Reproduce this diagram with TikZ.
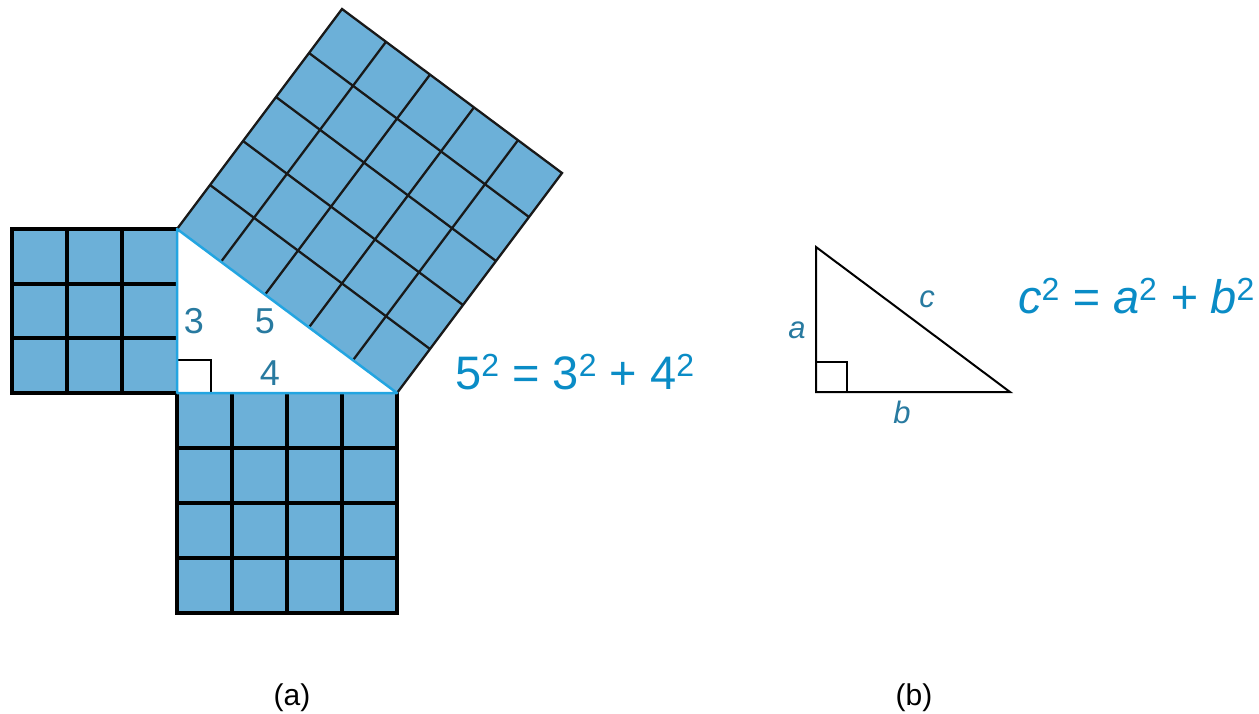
\documentclass[tikz,border=0pt]{standalone}
\usepackage{fontspec}
\setmainfont{Liberation Sans}
\usepackage{graphicx}
\usetikzlibrary{calc}
\definecolor{sqfill}{RGB}{108,176,216}
\definecolor{eqblue}{RGB}{10,140,198}
\definecolor{lblblue}{RGB}{40,122,160}
\definecolor{triblue}{RGB}{35,165,225}
\newcommand\sqsup[1]{\raisebox{0.27em}{\scalebox{0.68}{#1}}}
\tikzset{
  gridline/.style={black, line width=3.2pt},
  outerline/.style={black, line width=3.8pt, line join=miter},
  biggrid/.style={black!90, line width=2.3pt},
  trione/.style={triblue, line width=2.5pt, line join=round},
  eqtext/.style={text=eqblue, inner sep=0pt, anchor=base west, font=\fontsize{47}{50}\selectfont},
  numlbl/.style={text=lblblue, inner sep=0pt, anchor=base, font=\fontsize{36}{38}\selectfont},
  itlbl/.style={text=lblblue, inner sep=0pt, anchor=base, font=\fontsize{31}{33}\selectfont\itshape},
  caption/.style={text=black, inner sep=0pt, anchor=base, font=\fontsize{30}{32}\selectfont},
}
\begin{document}
\begin{tikzpicture}[x=1pt,y=-1pt]
\useasboundingbox (0,0) rectangle (1259,714);
% --- (a) ---
\coordinate (A) at (177,229);
\coordinate (C) at (177,393);
\coordinate (B) at (397,393);
\coordinate (A2) at (342,9);
\coordinate (B2) at (562,173);
% left square 3x3
\fill[sqfill] (12,229) rectangle (177,393);
\foreach \x in {67,122} \draw[gridline] (\x,229) -- (\x,393);
\foreach \y in {284,338} \draw[gridline] (12,\y) -- (177,\y);
\draw[outerline] (177,229) -- (12,229) -- (12,393) -- (177,393);
% bottom square 4x4
\fill[sqfill] (177,393) rectangle (397,613);
\foreach \x in {232,287,342} \draw[gridline] (\x,393) -- (\x,613);
\foreach \y in {448,503,558} \draw[gridline] (177,\y) -- (397,\y);
\draw[outerline] (177,393) -- (177,613) -- (397,613) -- (397,393);
% big square 5x5
\fill[sqfill] (A) -- (B) -- (B2) -- (A2) -- cycle;
\foreach \i in {1,...,4} {
  \draw[biggrid] ($(A)!\i/5!(B)$) -- ($(A2)!\i/5!(B2)$);
  \draw[biggrid] ($(A)!\i/5!(A2)$) -- ($(B)!\i/5!(B2)$);
}
\draw[biggrid] (A) -- (A2) -- (B2) -- (B);
% triangle
\fill[white] (A) -- (C) -- (B) -- cycle;
\draw[black, line width=1.3pt] (177,360) -- (211,360) -- (211,393);
\draw[trione] (A) -- (C) -- (B) -- cycle;
\node[numlbl] (l3) at (194,333) {3};
\node[numlbl] (l5) at (265,334) {5};
\node[numlbl] (l4) at (270,385) {4};
\node[eqtext] (eqa) at (455,389) {5\sqsup{2} = 3\sqsup{2} + 4\sqsup{2}};
\node[caption] (capa) at (292,705) {(a)};
% --- (b) ---
\coordinate (P) at (816,247);
\coordinate (Q) at (816,392);
\coordinate (R) at (1010,392);
\draw[black, line width=2pt, line join=miter] (P) -- (Q) -- (R) -- cycle;
\draw[black, line width=1.3pt] (816,362) -- (847,362) -- (847,392);
\node[itlbl] (la) at (797,338) {a};
\node[itlbl] (lc) at (927,308) {c};
\node[itlbl] (lb) at (902,423) {b};
\node[eqtext] (eqb) at (1018,313) {\itshape c\sqsup{\upshape 2} = a\sqsup{\upshape 2} + b\sqsup{\upshape 2}};
\node[caption] (capb) at (914,705) {(b)};
\end{tikzpicture}
\end{document}
